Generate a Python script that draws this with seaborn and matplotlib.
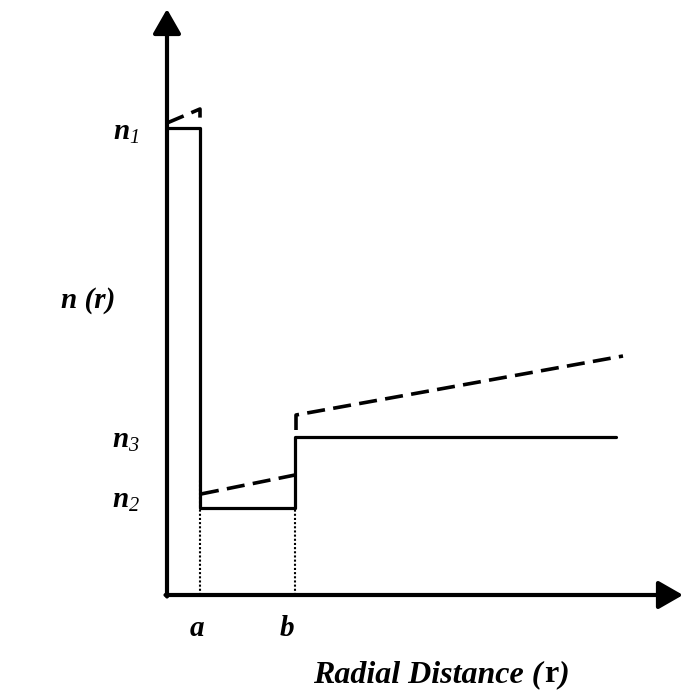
import numpy as np
import pandas as pd
import matplotlib
matplotlib.use("Agg")
import matplotlib.pyplot as plt
import seaborn as sns

# step-index profile (solid) and graded variant (dashed), schematic units
r_step = [0, 33, 33, 128, 128, 449]
n_step = [467, 467, 87, 87, 158, 158]

r_core = [0, 33, 33]
n_core = [472, 486, 473]
r_trench = [34, 128]
n_trench = [101, 120]
r_clad = [129, 129, 456]
n_clad = [165, 180, 239]

r_a, r_b = 33, 128
n_a_top, n_b_top = 115, 87

sns.set_theme(style="white")
plt.rcParams["font.family"] = ["Liberation Serif", "DejaVu Serif"]
plt.rcParams["text.color"] = "black"
plt.rcParams["mathtext.fontset"] = "custom"
plt.rcParams["mathtext.it"] = "Liberation Serif:italic:bold"
plt.rcParams["mathtext.rm"] = "Liberation Serif:italic"
plt.rcParams["mathtext.bf"] = "Liberation Serif:bold"

fig = plt.figure(figsize=(6.83, 6.95), dpi=100)
ax = fig.add_axes([0, 0, 1, 1])
ax.set_xlim(-167, 516)
ax.set_ylim(-100, 595)
ax.axis("off")

solid = pd.DataFrame({"r": r_step, "n": n_step})
sns.lineplot(data=solid, x="r", y="n", sort=False, estimator=None,
             color="black", lw=2.3, ax=ax)

lw_d = 2.6
for rr, nn in [(r_core, n_core), (r_trench, n_trench), (r_clad, n_clad)]:
    d = pd.DataFrame({"r": rr, "n": nn})
    sns.lineplot(data=d, x="r", y="n", sort=False, estimator=None,
                 color="black", lw=lw_d,
                 linestyle=(0, (13 / lw_d, 6 / lw_d)), ax=ax)

for x0, top in [(r_a, n_a_top), (r_b, n_b_top)]:
    ax.plot([x0, x0], [0, top], color="black", lw=1.5, linestyle=(0, (1, 1)))

arrow = dict(arrowstyle="-|>,head_length=1.5,head_width=0.86", lw=3,
             color="black", mutation_scale=10, shrinkA=0, shrinkB=0)
ax.annotate("", xy=(516, 0), xytext=(-1.5, 0), arrowprops=arrow)
ax.annotate("", xy=(0, 586), xytext=(0, -1.5), arrowprops=arrow)

fs = 21
bi = dict(style="italic", weight="bold")
ax.text(-41, 462, r"$n_1$", fontsize=fs, ha="center", va="center")
ax.text(-41, 154, r"$n_3$", fontsize=fs, ha="center", va="center")
ax.text(-41, 94, r"$n_2$", fontsize=fs, ha="center", va="center")
ax.text(-79, 295, "n (r)", fontsize=fs, ha="center", va="center", **bi)
ax.text(30, -34, "a", fontsize=fs, ha="center", va="center", **bi)
ax.text(120, -34, "b", fontsize=fs, ha="center", va="center", **bi)

fs_x = 23
t1 = ax.text(146, -87, "Radial Distance (", fontsize=fs_x, ha="left",
             va="baseline", **bi)
t2 = ax.annotate("r", xy=(1, 0), xycoords=t1, xytext=(1, 0),
                 textcoords="offset points", fontsize=fs_x, weight="bold",
                 ha="left", va="bottom")
ax.annotate(")", xy=(1, 0), xycoords=t2, xytext=(0, 0),
            textcoords="offset points", fontsize=fs_x, ha="left",
            va="bottom", **bi)

fig.savefig("out.png", dpi=100)
